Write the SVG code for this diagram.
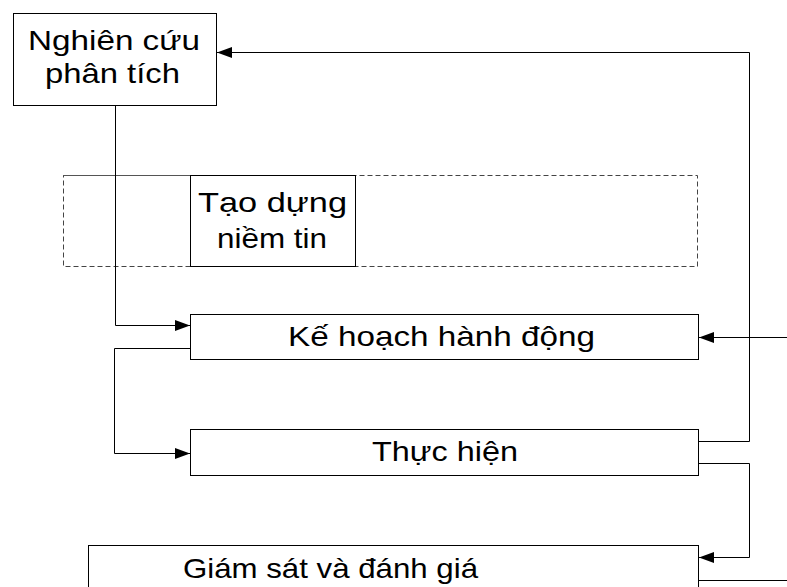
<svg xmlns="http://www.w3.org/2000/svg" width="787" height="587" viewBox="0 0 787 587">
  <style>
    .box { fill: #fff; stroke: #000; stroke-width: 1; }
    .frame { fill: none; stroke: #444; stroke-width: 1; stroke-dasharray: 5 3; }
    .lbl { font-family: "Liberation Sans", Arial, sans-serif; font-size: 28px; fill: #000; }
    .wire { fill: none; stroke: #000; stroke-width: 1; }
  </style>
  <defs>
    <marker id="arrow" markerUnits="userSpaceOnUse" markerWidth="16" markerHeight="12" refX="15" refY="5.5" orient="auto">
      <path d="M0,0 L15,5.5 L0,11 z" fill="#000"/>
    </marker>
  </defs>
  <rect width="787" height="587" fill="#fff"/>

  <!-- dashed grouping frame -->
  <rect class="frame" x="63.5" y="175.5" width="634" height="91"/>
  <line x1="63" y1="175.5" x2="356" y2="175.5" stroke="#555" stroke-width="1"/>

  <g id="nghien-cuu">
    <rect class="box" x="13.5" y="13.5" width="203" height="92"/>
    <text class="lbl" x="28" y="50" textLength="172" lengthAdjust="spacingAndGlyphs">Nghiên cứu</text>
    <text class="lbl" x="45" y="83" textLength="135" lengthAdjust="spacingAndGlyphs">phân tích</text>
  </g>

  <g id="tao-dung">
    <rect class="box" x="190.5" y="175.5" width="165" height="91"/>
    <text class="lbl" x="198" y="212" textLength="149" lengthAdjust="spacingAndGlyphs">Tạo dựng</text>
    <text class="lbl" x="217" y="248" textLength="110" lengthAdjust="spacingAndGlyphs">niềm tin</text>
  </g>

  <g id="ke-hoach">
    <rect class="box" x="190.5" y="314.5" width="508" height="45"/>
    <text class="lbl" x="288" y="346" textLength="307" lengthAdjust="spacingAndGlyphs">Kế hoạch hành động</text>
  </g>

  <g id="thuc-hien">
    <rect class="box" x="190.5" y="429.5" width="508" height="46"/>
    <text class="lbl" x="372" y="461" textLength="146" lengthAdjust="spacingAndGlyphs">Thực hiện</text>
  </g>

  <g id="giam-sat">
    <rect class="box" x="88.5" y="545.5" width="610" height="60"/>
    <text class="lbl" x="183" y="578" textLength="295" lengthAdjust="spacingAndGlyphs">Giám sát và đánh giá</text>
  </g>

  <g id="connectors">
    <path class="wire" d="M115.5,105 V325.5 H190" marker-end="url(#arrow)"/>
    <path class="wire" d="M190,348.5 H114.5 V453.5 H190" marker-end="url(#arrow)"/>
    <path class="wire" d="M699,441.5 H749.5 V52.5 H217" marker-end="url(#arrow)"/>
    <path class="wire" d="M787,337.5 H699" marker-end="url(#arrow)"/>
    <path class="wire" d="M699,463.5 H749.5 V557.5 H699" marker-end="url(#arrow)"/>
    <path class="wire" d="M699,580.5 H787"/>
  </g>
</svg>
